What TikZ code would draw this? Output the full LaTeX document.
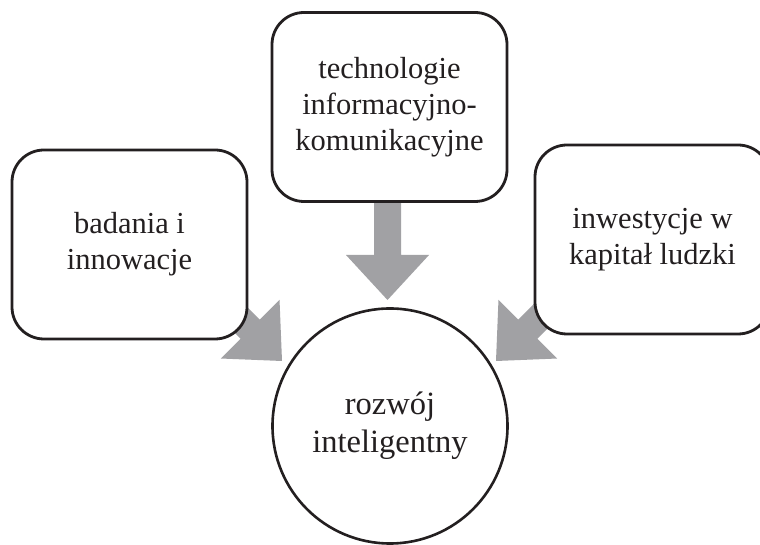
\documentclass[tikz,border=0pt]{standalone}
\usepackage{fontspec}
\setmainfont{Liberation Serif}
\definecolor{inkc}{RGB}{35,31,32}
\definecolor{arrowgray}{RGB}{161,161,164}
\tikzset{
  boxnode/.style={draw=inkc, line width=2.8pt, fill=white, rounded corners=32pt,
    minimum width=235pt, minimum height=189pt, align=center, text=inkc,
    font=\fontsize{30.5}{36}\selectfont, inner sep=0pt},
  circnode/.style={draw=inkc, line width=2.6pt, fill=white, circle,
    minimum size=235pt, align=center, text=inkc,
    font=\fontsize{32.5}{38}\selectfont, inner sep=0pt},
  blockarrow/.style={fill=arrowgray}
}
\newcommand{\blockarrowat}[3]{% tip coordinate, angle, length
  \begin{scope}[shift={(#1)}, rotate=#2]
    \fill[blockarrow] (0,0) -- (-45,41.5) -- (-45,13.5) -- (-#3,13.5) -- (-#3,-13.5)
      -- (-45,-13.5) -- (-45,-41.5) -- cycle;
  \end{scope}}
\begin{document}
\begin{tikzpicture}[x=1pt,y=1pt]
  \clip (0,0) rectangle (760,545);
  \fill[white] (0,0) rectangle (760,545);
  % arrow tips
  \coordinate (tipT) at (387.5,245);
  \coordinate (tipL) at (282,184);
  \coordinate (tipR) at (496,184);
  \blockarrowat{tipT}{-90}{110}
  \blockarrowat{tipL}{-45}{105}
  \blockarrowat{tipR}{-135}{105}
  % nodes
  \node[boxnode] (tech) at (389.5,438) {technologie\\informacyjno-\\komunikacyjne};
  \node[boxnode] (bad) at (129.5,300.5) {badania i\\innowacje};
  \node[boxnode] (inw) at (652.5,305.5) {inwestycje w\\kapitał ludzki};
  \node[circnode] (roz) at (390,119) {rozwój\\inteligentny};
\end{tikzpicture}
\end{document}
